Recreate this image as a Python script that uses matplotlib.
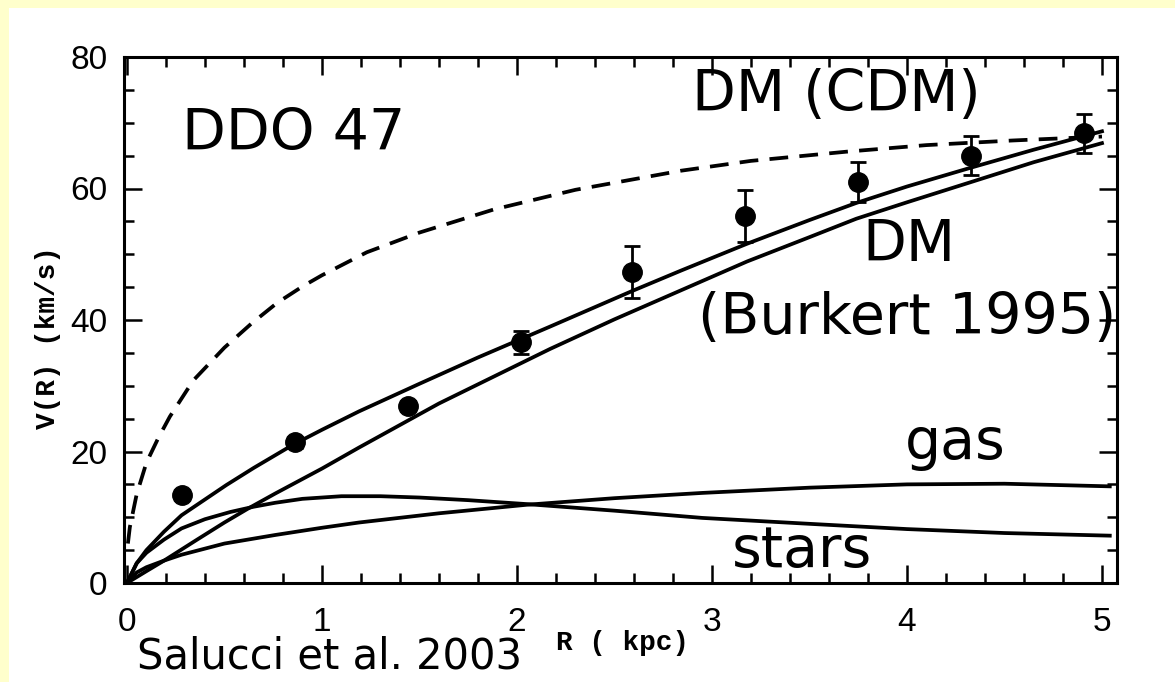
import matplotlib
matplotlib.use("Agg")
import matplotlib.pyplot as plt
from matplotlib.patches import Rectangle
from matplotlib.ticker import MultipleLocator

# observed rotation curve of DDO 47
r_obs = [0.28, 0.86, 1.44, 2.02, 2.59, 3.17, 3.75, 4.33, 4.91]
v_obs = [13.4, 21.4, 26.9, 36.6, 47.3, 55.8, 61.0, 65.0, 68.4]
v_err = [0.8, 0.8, 0.8, 1.7, 3.9, 4.0, 3.0, 3.0, 3.0]

# NFW (CDM) halo prediction
r_cdm = [0.005, 0.015, 0.05, 0.10, 0.16, 0.22, 0.34, 0.50, 0.64, 0.77, 0.9,
         1.0, 1.23, 1.5, 1.88, 2.3, 2.84, 3.2, 3.69, 4.1, 4.54, 5.0]
v_cdm = [6.0, 8.5, 13.5, 18.3, 22.0, 25.3, 30.8, 35.8, 39.5, 42.6, 45.1,
         46.8, 50.3, 53.3, 56.8, 59.8, 62.7, 64.2, 65.6, 66.6, 67.3, 67.9]

# total model fit
r_tot = [0.0, 0.05, 0.10, 0.19, 0.28, 0.41, 0.51, 0.65, 0.85, 1.0, 1.19, 1.5,
         1.8, 2.17, 2.59, 2.84, 3.18, 3.5, 3.74, 4.0, 4.32, 4.65, 5.0]
v_tot = [0.0, 3.0, 5.0, 7.8, 10.3, 12.9, 14.9, 17.5, 21.0, 23.3, 26.1, 30.3,
         34.3, 39.0, 44.4, 47.5, 51.6, 55.2, 57.8, 60.3, 63.1, 65.9, 68.7]

# Burkert halo contribution
r_dm = [0.0, 0.10, 0.19, 0.36, 0.50, 0.62, 0.76, 1.0, 1.19, 1.6, 2.17, 2.5,
        2.84, 3.18, 3.5, 3.74, 4.0, 4.32, 4.65, 5.0]
v_dm = [0.0, 1.8, 3.4, 6.6, 9.2, 11.3, 13.6, 17.4, 20.6, 27.3, 35.6, 40.1,
        44.5, 48.9, 52.6, 55.4, 57.9, 60.9, 64.0, 66.9]

# stellar disk
r_star = [0.0, 0.05, 0.10, 0.19, 0.28, 0.40, 0.53, 0.65, 0.76, 0.9, 1.1, 1.3,
          1.5, 1.75, 2.05, 2.5, 2.95, 3.5, 4.0, 4.5, 5.04]
v_star = [0.0, 3.0, 4.6, 6.6, 8.3, 9.7, 10.8, 11.6, 12.2, 12.8, 13.2, 13.2,
          13.0, 12.6, 12.0, 11.0, 9.9, 9.0, 8.2, 7.6, 7.2]

# HI gas disk
r_gas = [0.0, 0.05, 0.10, 0.19, 0.28, 0.50, 0.76, 1.0, 1.19, 1.6, 2.05, 2.5,
         2.95, 3.5, 4.0, 4.5, 5.04]
v_gas = [0.0, 1.6, 2.4, 3.4, 4.3, 6.0, 7.3, 8.4, 9.2, 10.6, 11.9, 12.9,
         13.7, 14.5, 15.0, 15.1, 14.7]

W, H = 1175, 682
fig = plt.figure(figsize=(W / 100, H / 100), dpi=100, facecolor="#ffffcc")
fig.add_artist(Rectangle((9 / W, 0), 1, (H - 8) / H, transform=fig.transFigure,
                         facecolor="white", edgecolor="none", zorder=0))

ax = fig.add_axes([124 / W, (H - 583) / H, 993 / W, 526 / H])
ax.set_facecolor("white")

lw = 2.7
ax.plot(r_cdm, v_cdm, color="black", lw=lw, ls=(0, (5, 3)))
ax.plot(r_tot, v_tot, color="black", lw=lw)
ax.plot(r_dm, v_dm, color="black", lw=lw)
ax.plot(r_star, v_star, color="black", lw=lw)
ax.plot(r_gas, v_gas, color="black", lw=lw)
ax.errorbar(r_obs, v_obs, yerr=v_err, fmt="o", color="black", ms=14,
            elinewidth=2, capsize=6, capthick=2, zorder=5)

ax.set_xlim(-0.015, 5.077)
ax.set_ylim(0, 80)
ax.xaxis.set_major_locator(MultipleLocator(1))
ax.xaxis.set_minor_locator(MultipleLocator(0.2))
ax.yaxis.set_major_locator(MultipleLocator(20))
ax.yaxis.set_minor_locator(MultipleLocator(5))
for s in ax.spines.values():
    s.set_linewidth(2.2)
ax.tick_params(which="both", direction="in", top=True, right=True, width=1.8)
ax.tick_params(which="major", length=13, labelsize=24,
               labelfontfamily="Liberation Sans")
ax.tick_params(which="minor", length=7)
ax.tick_params(axis="x", pad=17)
ax.tick_params(axis="y", pad=12)

ax.set_xlabel("R ( kpc)", family="Liberation Mono", weight="bold", fontsize=20)
ax.xaxis.set_label_coords(0.5025, -0.114)
ax.xaxis.label.set_va("center")
ax.set_ylabel("V(R) (km/s)", family="Liberation Mono", weight="bold", fontsize=20)
ax.yaxis.set_label_coords(-0.0765, 0.466)
ax.yaxis.label.set_va("center")

big = 41
ax.text(0.28, 65.8, "DDO 47", fontsize=big, ha="left", va="baseline")
ax.text(2.90, 71.8, "DM (CDM)", fontsize=big, ha="left", va="baseline")
ax.text(3.77, 48.9, "DM", fontsize=big, ha="left", va="baseline")
ax.text(2.93, 37.9, "(Burkert 1995)", fontsize=big, ha="left", va="baseline")
ax.text(3.99, 18.8, "gas", fontsize=big, ha="left", va="baseline")
ax.text(3.10, 2.4, "stars", fontsize=big, ha="left", va="baseline")
ax.text(0.05, -13.0, "Salucci et al. 2003", fontsize=30, ha="left", va="baseline")

fig.savefig("out.png", dpi=100, facecolor=fig.get_facecolor())
